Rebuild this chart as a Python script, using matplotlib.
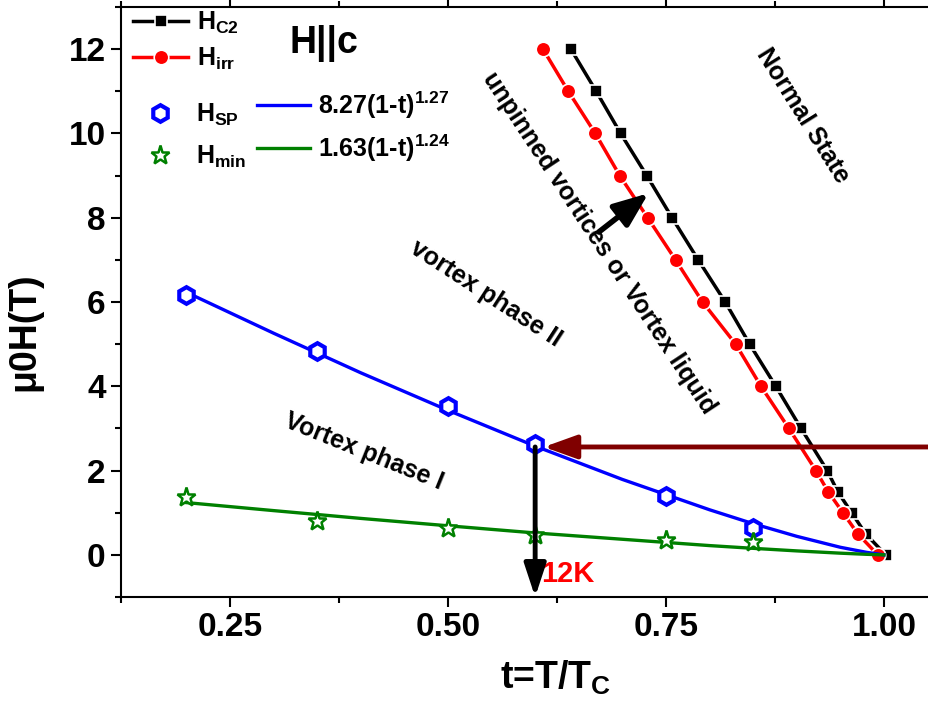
import matplotlib
matplotlib.use('Agg')
import matplotlib.pyplot as plt
from matplotlib.ticker import MultipleLocator, FormatStrFormatter

# H_C2 and H_irr lines
t_hc2 = [0.641, 0.670, 0.698, 0.728, 0.757, 0.787, 0.818, 0.846, 0.876, 0.905, 0.935, 0.947, 0.963, 0.979, 1.002]
h_hc2 = [12, 11, 10, 9, 8, 7, 6, 5, 4, 3, 2, 1.5, 1, 0.5, 0]
t_hirr = [0.609, 0.638, 0.669, 0.697, 0.729, 0.761, 0.792, 0.830, 0.859, 0.891, 0.922, 0.936, 0.953, 0.970, 0.993]
h_hirr = [12, 11, 10, 9, 8, 7, 6, 5, 4, 3, 2, 1.5, 1, 0.5, 0]

# H_SP and H_min points
t_sp = [0.2, 0.35, 0.5, 0.6, 0.75, 0.85]
h_sp = [6.17, 4.84, 3.53, 2.64, 1.40, 0.64]
t_min = [0.2, 0.35, 0.5, 0.6, 0.75, 0.85]
h_min = [1.38, 0.80, 0.64, 0.47, 0.35, 0.31]

# fit curves, sampled along the drawn lines
t_fit = [0.2, 0.3, 0.4, 0.5, 0.6, 0.7, 0.8, 0.85, 0.9, 0.95, 0.98, 1.0]
h_sp_fit = [6.23, 5.26, 4.32, 3.43, 2.58, 1.79, 1.07, 0.74, 0.44, 0.18, 0.06, 0.0]
h_min_fit = [1.24, 1.05, 0.865, 0.69, 0.52, 0.37, 0.22, 0.155, 0.094, 0.04, 0.013, 0.0]

plt.rcParams['font.family'] = ['Liberation Sans', 'DejaVu Sans']
plt.rcParams['font.weight'] = 'bold'
plt.rcParams['axes.labelweight'] = 'bold'
plt.rcParams['mathtext.fontset'] = 'custom'
plt.rcParams['mathtext.rm'] = 'Liberation Sans:bold'
plt.rcParams['mathtext.bf'] = 'Liberation Sans:bold'
plt.rcParams['mathtext.it'] = 'Liberation Sans:bold'
plt.rcParams['mathtext.default'] = 'rm'

fig = plt.figure(figsize=(9.29, 7.15), dpi=100)
ax = fig.add_axes([121/929, 118/715, 810/929, 590/715])

l_hc2, = ax.plot(t_hc2, h_hc2, color='black', lw=2.5, marker='s', ms=9, mec='white', mew=1.2)
l_hirr, = ax.plot(t_hirr, h_hirr, color='red', lw=2.5, marker='o', ms=10.5, mec='white', mew=1.2)
f_sp, = ax.plot(t_fit, h_sp_fit, color='blue', lw=2.4)
f_min, = ax.plot(t_fit, h_min_fit, color='green', lw=2.4)
p_sp, = ax.plot(t_sp, h_sp, ls='none', marker='h', ms=12, mfc='white', mec='blue', mew=3)
p_min, = ax.plot(t_min, h_min, ls='none', marker='*', ms=14, mfc='white', mec='green', mew=1.8)

ax.set_xlim(0.125, 1.054)
ax.set_ylim(-1, 13)

ax.xaxis.set_major_locator(MultipleLocator(0.25))
ax.xaxis.set_minor_locator(MultipleLocator(0.125))
ax.xaxis.set_major_formatter(FormatStrFormatter('%.2f'))
ax.yaxis.set_major_locator(MultipleLocator(2))
ax.yaxis.set_minor_locator(MultipleLocator(1))
ax.tick_params(which='both', width=1.5, labelsize=24, pad=4)
ax.tick_params(which='major', length=7)
ax.tick_params(which='minor', length=4)
ax.tick_params(which='both', top=True, right=True)
for sp in ax.spines.values():
    sp.set_linewidth(1.5)

ax.set_xlabel('t=T/T$_C$', fontsize=27)
ax.set_ylabel('\u03bc0H(T)', fontsize=27)
ax.xaxis.set_label_coords(0.536, -0.105)
ax.yaxis.set_label_coords(-0.097, 0.45)

# legends
leg1 = ax.legend([l_hc2, l_hirr], ['H$_{C2}$', 'H$_{irr}$'], loc='upper left',
                 bbox_to_anchor=(0.015, 0.995), frameon=False, fontsize=18,
                 handlelength=2.2, handletextpad=0.35, labelspacing=0.4,
                 borderpad=0, borderaxespad=0)
ax.add_artist(leg1)
leg2 = ax.legend([p_sp, p_min], ['H$_{SP}$', 'H$_{min}$'], loc='upper left',
                 bbox_to_anchor=(0.033, 0.84), frameon=False, fontsize=18,
                 handlelength=1.0, handletextpad=0.95, labelspacing=0.65,
                 borderpad=0, borderaxespad=0)
ax.add_artist(leg2)
ax.legend([f_sp, f_min], ['8.27(1-t)$^{1.27}$', '1.63(1-t)$^{1.24}$'], loc='upper left',
          bbox_to_anchor=(0.168, 0.86), frameon=False, fontsize=18,
          handlelength=2.1, handletextpad=0.35, labelspacing=0.45,
          borderpad=0, borderaxespad=0)

# annotations
ax.text(0.358, 12.14, 'H||c', fontsize=27, ha='center', va='center')
ax.text(0.907, 10.43, 'Normal State', fontsize=18, rotation=-58, ha='center', va='center')
ax.text(0.674, 7.40, 'unpinned vortices or Vortex liquid', fontsize=18, rotation=-56.6,
        ha='center', va='center')
ax.text(0.544, 6.19, 'vortex phase II', fontsize=18, rotation=-33, ha='center', va='center')
ax.text(0.404, 2.44, 'Vortex phase I', fontsize=18, rotation=-22, ha='center', va='center')
ax.text(0.607, -0.45, '12K', fontsize=21, color='red', ha='left', va='center')

ax.annotate('', xy=(0.61, 2.56), xytext=(1.054, 2.56),
            arrowprops=dict(arrowstyle='-|>,head_length=1.0,head_width=0.36', lw=3.5,
                            color='#800000', mutation_scale=20, shrinkA=0, shrinkB=0))
ax.annotate('', xy=(0.6, -1.0), xytext=(0.6, 2.56),
            arrowprops=dict(arrowstyle='-|>,head_length=1.0,head_width=0.33', lw=3.5,
                            color='black', mutation_scale=20, shrinkA=0, shrinkB=0))
ax.annotate('', xy=(0.730, 8.58), xytext=(0.673, 7.66),
            arrowprops=dict(arrowstyle='-|>,head_length=1.05,head_width=0.42', lw=4,
                            color='black', mutation_scale=20, shrinkA=0, shrinkB=0))

fig.savefig('out.png', dpi=100)
